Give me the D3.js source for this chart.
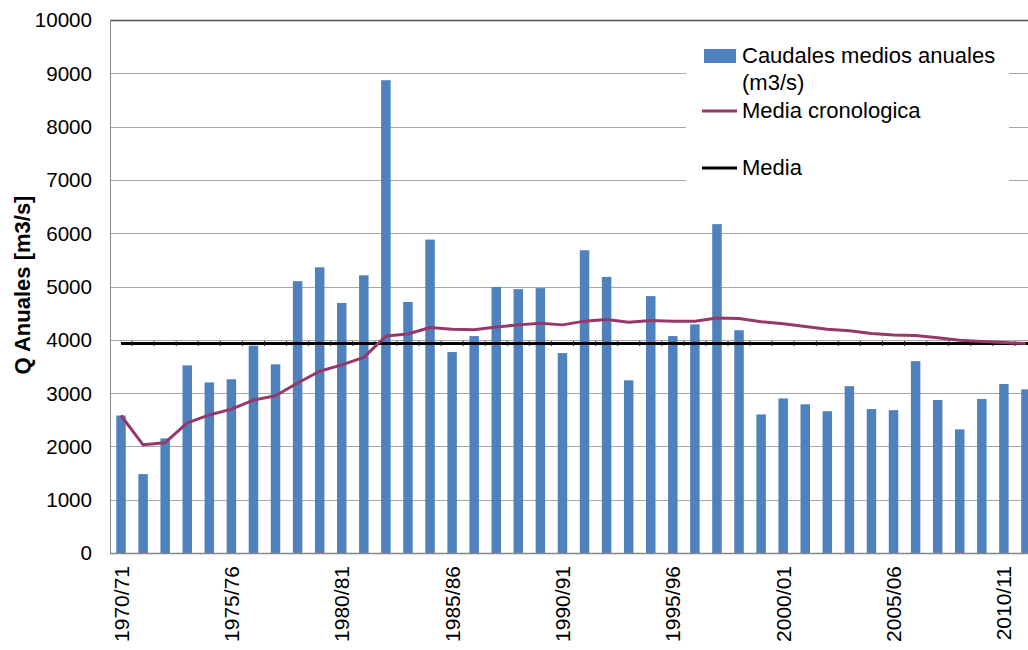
<!DOCTYPE html>
<html>
<head>
<meta charset="utf-8">
<script src="https://cdn.jsdelivr.net/npm/d3@7"></script>
<style>
  body { margin: 0; background: #fff; }
  svg { display: block; font-family: "Liberation Sans", Arial, sans-serif; }
</style>
</head>
<body>
<div id="chart"></div>
<script>
// hydrological years
var years = ["1970/71","1971/72","1972/73","1973/74","1974/75","1975/76","1976/77","1977/78","1978/79","1979/80",
             "1980/81","1981/82","1982/83","1983/84","1984/85","1985/86","1986/87","1987/88","1988/89","1989/90",
             "1990/91","1991/92","1992/93","1993/94","1994/95","1995/96","1996/97","1997/98","1998/99","1999/00",
             "2000/01","2001/02","2002/03","2003/04","2004/05","2005/06","2006/07","2007/08","2008/09","2009/10",
             "2010/11","2011/12"];

// Caudales medios anuales (m3/s)
var caudales = [2580,1480,2150,3520,3200,3260,3890,3540,5100,5360,
                4690,5210,8870,4710,5880,3770,4070,4990,4950,4970,
                3750,5680,5180,3240,4820,4070,4290,6170,4180,2600,
                2900,2790,2660,3130,2700,2680,3600,2870,2320,2890,
                3170,3070];

// Media cronologica
var mediaCrono = [2580,2030,2070,2440,2590,2700,2870,2950,3190,3410,
                  3530,3670,4070,4110,4230,4200,4190,4240,4280,4310,
                  4280,4350,4380,4330,4360,4350,4350,4410,4400,4340,
                  4300,4250,4200,4170,4120,4090,4080,4040,3990,3970,
                  3950,3930];

// Media
var media = 3930;

var yTicks = [0,1000,2000,3000,4000,5000,6000,7000,8000,9000,10000];
var xTickLabels = ["1970/71","1975/76","1980/81","1985/86","1990/91","1995/96","2000/01","2005/06","2010/11"];

function init(){
    var w = 1028;
    var h = 650;
    var left = 110, right = 1037, top = 20, bottom = 553;

    var svg = d3.select("#chart")
                .append("svg")
                .attr("width", w)
                .attr("height", h);

    var xScale = d3.scaleBand()
                .domain(years)
                .range([left, right])
                .paddingInner(0.57)
                .paddingOuter(0.285);

    var yScale = d3.scaleLinear()
                .domain([0, 10000])
                .range([bottom, top]);

    function cx(d){ return xScale(d) + xScale.bandwidth()/2; }

    //gridlines
    svg.append("g")
        .selectAll("line")
        .data(yTicks.slice(1, -1))
        .enter()
        .append("line")
        .attr("x1", left)
        .attr("x2", w)
        .attr("y1", function(d){ return Math.round(yScale(d)) + 0.5; })
        .attr("y2", function(d){ return Math.round(yScale(d)) + 0.5; })
        .attr("stroke", "#a6a6a6")
        .attr("stroke-width", 1);

    // top border
    svg.append("line")
        .attr("x1", left).attr("x2", w)
        .attr("y1", Math.round(yScale(10000)) + 0.5)
        .attr("y2", Math.round(yScale(10000)) + 0.5)
        .attr("stroke", "#505050")
        .attr("stroke-width", 1.5);

    //bars
    svg.append("g")
        .selectAll("rect")
        .data(caudales)
        .enter()
        .append("rect")
        .attr("x", function(d, i){ return xScale(years[i]); })
        .attr("y", function(d){ return yScale(d); })
        .attr("width", xScale.bandwidth())
        .attr("height", function(d){ return yScale(0) - yScale(d); })
        .attr("fill", "#4f81bd");

    // mean line with small marks at category borders
    var my = yScale(media);
    svg.append("line")
        .attr("x1", cx(years[0]))
        .attr("x2", w)
        .attr("y1", my)
        .attr("y2", my)
        .attr("stroke", "#000")
        .attr("stroke-width", 3);

    svg.append("g")
        .selectAll("line")
        .data(years.slice(1))
        .enter()
        .append("line")
        .attr("x1", function(d){ return xScale(d) - xScale.step()*xScale.paddingInner()/2; })
        .attr("x2", function(d){ return xScale(d) - xScale.step()*xScale.paddingInner()/2; })
        .attr("y1", my - 2.5)
        .attr("y2", my + 2.5)
        .attr("stroke", "#222")
        .attr("stroke-width", 1);

    //cumulative mean line
    var line = d3.line()
                .x(function(d, i){ return cx(years[i]); })
                .y(function(d){ return yScale(d); });

    svg.append("path")
        .datum(mediaCrono)
        .attr("d", line)
        .attr("fill", "none")
        .attr("stroke", "#96386a")
        .attr("stroke-width", 3)
        .attr("stroke-linejoin", "round");

    //axes lines
    svg.append("line")
        .attr("x1", left + 0.5).attr("x2", left + 0.5)
        .attr("y1", top).attr("y2", bottom)
        .attr("stroke", "#868686");
    svg.append("line")
        .attr("x1", left).attr("x2", w)
        .attr("y1", bottom + 0.5).attr("y2", bottom + 0.5)
        .attr("stroke", "#868686")
        .attr("stroke-width", 1.5);

    //y tick labels
    svg.append("g")
        .selectAll("text")
        .data(yTicks)
        .enter()
        .append("text")
        .text(function(d){ return d; })
        .attr("x", 92)
        .attr("y", function(d){ return yScale(d); })
        .attr("dy", "0.36em")
        .attr("text-anchor", "end")
        .attr("font-size", "20.6px")
        .attr("fill", "#000");

    //x tick labels
    svg.append("g")
        .selectAll("text")
        .data(xTickLabels)
        .enter()
        .append("text")
        .text(function(d){ return d; })
        .attr("transform", function(d){ return "translate(" + cx(d) + ",566) rotate(-90)"; })
        .attr("dy", "0.36em")
        .attr("text-anchor", "end")
        .attr("font-size", "21px")
        .attr("fill", "#000");

    //y axis title
    svg.append("text")
        .text("Q Anuales [m3/s]")
        .attr("transform", "translate(30,285) rotate(-90)")
        .attr("text-anchor", "middle")
        .attr("font-size", "22px")
        .attr("font-weight", "bold")
        .attr("fill", "#000");

    //legend
    var lg = svg.append("g");
    lg.append("rect")
        .attr("x", 686).attr("y", 34)
        .attr("width", 323).attr("height", 160)
        .attr("fill", "#fff");

    lg.append("rect")
        .attr("x", 704).attr("y", 49)
        .attr("width", 32).attr("height", 14)
        .attr("fill", "#4f81bd");
    lg.append("text")
        .attr("x", 742).attr("y", 63)
        .attr("font-size", "22px")
        .text("Caudales medios anuales");
    lg.append("text")
        .attr("x", 742).attr("y", 90)
        .attr("font-size", "22px")
        .text("(m3/s)");

    lg.append("line")
        .attr("x1", 702).attr("x2", 737)
        .attr("y1", 111).attr("y2", 111)
        .attr("stroke", "#96386a")
        .attr("stroke-width", 3);
    lg.append("text")
        .attr("x", 742).attr("y", 118)
        .attr("font-size", "22px")
        .text("Media cronologica");

    lg.append("line")
        .attr("x1", 702).attr("x2", 737)
        .attr("y1", 168).attr("y2", 168)
        .attr("stroke", "#000")
        .attr("stroke-width", 3);
    lg.append("text")
        .attr("x", 742).attr("y", 175)
        .attr("font-size", "22px")
        .text("Media");
}
window.onload = init;
</script>
</body>
</html>
